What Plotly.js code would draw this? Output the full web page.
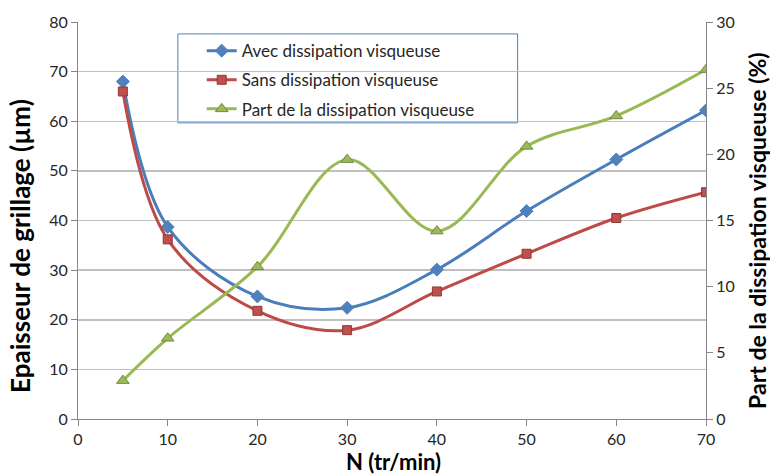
<!DOCTYPE html>
<html>
<head>
<meta charset="utf-8">
<script src="https://cdn.plot.ly/plotly-3.0.1.min.js"></script>
<style>html,body{margin:0;padding:0;background:#fff;}#chart{width:770px;height:475px;}</style>
</head>
<body>
<div id="chart"></div>
<script>
const N = [5, 10, 20, 30, 40, 50, 60, 70];
const avecDissipation = [68.0, 38.7, 24.7, 22.4, 30.1, 41.9, 52.3, 62.2];
const sansDissipation = [66.0, 36.2, 21.8, 17.9, 25.7, 33.3, 40.5, 45.7];
const partDissipation = [2.9, 6.1, 11.5, 19.6, 14.2, 20.6, 22.9, 26.4];
const seriesNames = ["Avec dissipation visqueuse", "Sans dissipation visqueuse", "Part de la dissipation visqueuse"];
const xTitle = "N (tr/min)";
const yTitle = "Epaisseur de grillage (µm)";
const y2Title = "Part de la dissipation visqueuse (%)";

const FONT = "Lato, 'Open Sans', sans-serif";
const axisGray = "#868686";

const traces = [
  {x: N, y: avecDissipation, name: seriesNames[0], type: "scatter", mode: "lines+markers",
   legendgroup: "a",
   line: {color: "#4A7EBB", width: 3, shape: "spline", smoothing: 1},
   marker: {symbol: "diamond", size: 10, color: "#4F81BD", line: {color: "#4F81BD", width: 1}}},
  {x: N, y: sansDissipation, name: seriesNames[1], type: "scatter", mode: "lines+markers",
   legendgroup: "b",
   line: {color: "#BE4B48", width: 3, shape: "spline", smoothing: 1},
   marker: {symbol: "square", size: 9, color: "#C0504D", line: {color: "#8C3836", width: 1}}},
  {x: N, y: partDissipation, name: seriesNames[2], type: "scatter", mode: "lines+markers",
   legendgroup: "c", yaxis: "y2",
   line: {color: "#98B954", width: 3, shape: "spline", smoothing: 1},
   marker: {symbol: "triangle-up", size: 11, color: "#9BBB59", line: {color: "#71893F", width: 1}}}
];

const layout = {
  width: 770, height: 475,
  margin: {l: 78, r: 64, t: 22, b: 56},
  paper_bgcolor: "#ffffff", plot_bgcolor: "#ffffff",
  font: {family: FONT, color: "#262626", size: 16},
  showlegend: true,
  legend: {x: 0.197, y: 0.972, xanchor: "left", yanchor: "top",
    bgcolor: "rgba(0,0,0,0)", borderwidth: 0,
    font: {family: FONT, size: 17, color: "#262626"},
    tracegroupgap: 4, itemwidth: 30},
  shapes: [{type: "rect", xref: "paper", yref: "paper",
    x0: 0.159, x1: 0.7, y0: 0.746, y1: 0.97,
    line: {color: "#4F81BD", width: 1}, fillcolor: "rgba(0,0,0,0)", layer: "below"}],
  annotations: [
    {text: "<b>" + xTitle + "</b>", xref: "paper", yref: "paper", x: 0.503, y: -0.106,
     xanchor: "center", yanchor: "middle", showarrow: false,
     font: {family: FONT, size: 22, color: "#000"}},
    {text: "<b>" + yTitle + "</b>", xref: "paper", yref: "paper", x: -0.0924, y: 0.436,
     xanchor: "center", yanchor: "middle", showarrow: false, textangle: -90,
     font: {family: FONT, size: 26, color: "#000"}},
    {text: "<b>" + y2Title + "</b>", xref: "paper", yref: "paper", x: 1.081, y: 0.476,
     xanchor: "center", yanchor: "middle", showarrow: false, textangle: -90,
     font: {family: FONT, size: 23, color: "#000"}}
  ],
  xaxis: {range: [0, 70], dtick: 10, tick0: 0, showgrid: false, zeroline: false,
    showline: true, linecolor: axisGray, linewidth: 1,
    ticks: "outside", ticklen: 6, tickcolor: axisGray,
    tickfont: {family: FONT, size: 16, color: "#262626"}},
  yaxis: {range: [0, 80], dtick: 10, tick0: 0, showgrid: true, gridcolor: "#c0c0c0", gridwidth: 1.5,
    zeroline: false, showline: true, linecolor: axisGray, linewidth: 1,
    ticks: "outside", ticklen: 6, tickcolor: axisGray,
    tickfont: {family: FONT, size: 16, color: "#262626"}},
  yaxis2: {range: [0, 30], dtick: 5, tick0: 0, overlaying: "y", side: "right",
    showgrid: false, zeroline: false, showline: true, linecolor: axisGray, linewidth: 1,
    ticks: "outside", ticklen: 6, tickcolor: axisGray,
    tickfont: {family: FONT, size: 16, color: "#262626"}}
};

Plotly.newPlot("chart", traces, layout, {staticPlot: true, displayModeBar: false});
</script>
</body>
</html>
